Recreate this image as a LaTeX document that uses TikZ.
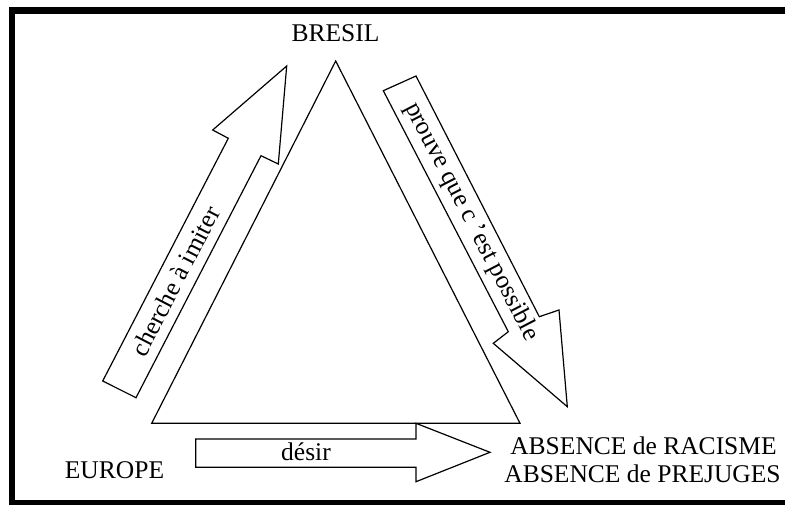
\documentclass[tikz,border=0pt]{standalone}
\usepackage{fontspec}
\setmainfont{Liberation Serif}
\tikzset{
  lbl/.style={font=\fontsize{25.5}{28}\selectfont, inner sep=0pt},
  blk/.style={draw, line width=1.2pt, line join=miter, fill=white},
  frame/.style={draw, line width=6.5pt}
}
\begin{document}
\begin{tikzpicture}[x=1pt,y=-1pt]
\useasboundingbox (0,0) rectangle (785,504);
\clip (0,0) rectangle (785,504);
\draw[frame] (12,10.3) rectangle (800,503);
% triangle
\draw[blk] (335.7,61) -- (151.7,423.3) -- (520,423.3) -- cycle;
% left block arrow
\draw[blk] (102.7,381) -- (136,397.7) -- (261,155.7) -- (278.3,164) -- (286.7,66)
  -- (212.7,130) -- (228.3,138.3) -- cycle;
% right block arrow
\draw[blk] (383.3,90.7) -- (416,76) -- (539.3,316.7) -- (559,310) -- (567.3,406.7)
  -- (493.3,343.3) -- (508.3,331.7) -- cycle;
% bottom block arrow
\draw[blk] (195.7,439) -- (416,439) -- (416,423.3) -- (490,452.3) -- (416,481.7)
  -- (416,467.3) -- (195.7,467.3) -- cycle;
% labels
\node[lbl, anchor=base] (bresil) at (335.5,41.7) {BRESIL};
\node[lbl, anchor=base] (europe) at (114.5,478.3) {EUROPE};
\node[lbl, anchor=base] (abs1) at (643.5,454) {ABSENCE de RACISME};
\node[lbl, anchor=base] (abs2) at (642.5,482.3) {ABSENCE de PREJUGES};
\node[lbl, anchor=base] (desir) at (306,460.7) {désir};
\node[lbl, rotate=62.6] (imiter) at (175.4,281.1) {cherche à imiter};
\node[lbl, rotate=-62.6] (prouve) at (471.5,221.8) {prouve que c ’est possible};
\end{tikzpicture}
\end{document}
